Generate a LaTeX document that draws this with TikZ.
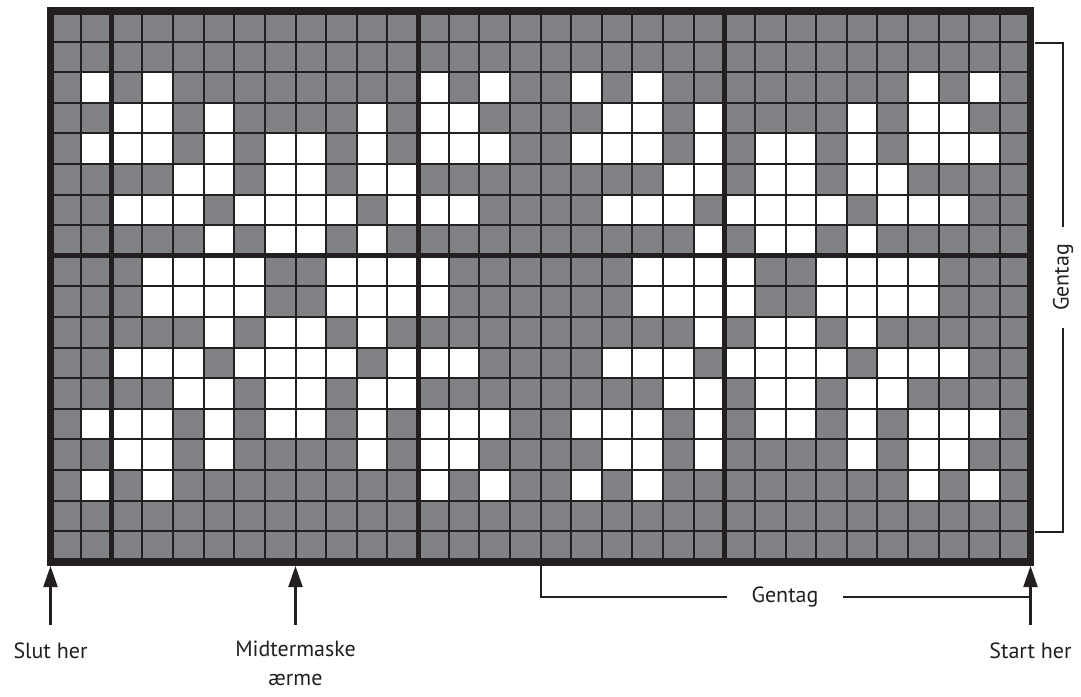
\documentclass[tikz,border=0pt]{standalone}
\usepackage{fontspec}
\setmainfont{PT Sans}
\usetikzlibrary{arrows.meta}
\definecolor{cellgray}{HTML}{808285}
\definecolor{ink}{HTML}{231F20}
\tikzset{
  thinline/.style={ink, line width=1pt},
  thickline/.style={ink, line width=2.5pt},
  frameline/.style={ink, line width=3.75pt},
  pointer/.style={ink, line width=1.1pt, -{Triangle[length=10.5pt,width=7pt]}},
  bracket/.style={ink, line width=1pt},
  lbl/.style={inner sep=0pt, font=\fontsize{11}{14.3}\selectfont, text=ink},
}
\begin{document}
\begin{tikzpicture}[x=0.5pt,y=-0.5pt]
\useasboundingbox (0,0) rectangle (1081,696);
\def\cw{30.625}
\def\ch{30.6}
\def\xo{50.5}
\def\yo{11}
% gray background of grid
\fill[cellgray] (\xo,\yo) rectangle ({\xo+32*\cw},{\yo+18*\ch});
% white cells (16-stitch repeat, used twice)
\foreach \r/\cs in {3/{2,4,13,15},4/{3,4,6,11,13,14},5/{2,3,4,6,8,9,11,13,14,15},6/{5,6,8,9,11,12},7/{3,4,5,7,8,9,10,12,13,14},8/{6,8,9,11},9/{4,5,6,7,10,11,12,13},10/{4,5,6,7,10,11,12,13},11/{6,8,9,11},12/{3,4,5,7,8,9,10,12,13,14},13/{5,6,8,9,11,12},14/{2,3,4,6,8,9,11,13,14,15},15/{3,4,6,11,13,14},16/{2,4,13,15}}{
  \foreach \c in \cs {
    \foreach \off in {0,16} {
      \fill[white] ({\xo+(\c+\off-1)*\cw},{\yo+(\r-1)*\ch}) rectangle ++(\cw,\ch);
    }
  }
}
% thin grid lines
\foreach \k in {1,...,31} \draw[thinline] ({\xo+\k*\cw},\yo) -- ({\xo+\k*\cw},{\yo+18*\ch});
\foreach \k in {1,...,17} \draw[thinline] (\xo,{\yo+\k*\ch}) -- ({\xo+32*\cw},{\yo+\k*\ch});
% thick division lines
\foreach \k in {2,12,22} \draw[thickline] ({\xo+\k*\cw},\yo) -- ({\xo+\k*\cw},{\yo+18*\ch});
\draw[thickline] (\xo,{\yo+8*\ch}) -- ({\xo+32*\cw},{\yo+8*\ch});
% frame
\draw[frameline] (\xo,\yo) rectangle ({\xo+32*\cw},{\yo+18*\ch});

% labels
\node[lbl, anchor=base] (slut) at (50.5,658) {Slut her};
\node[lbl, anchor=north, align=center] (mid) at (295.5,641) {Midtermaske\\ærme};
\node[lbl, anchor=base] (start) at (1030.5,658) {Start her};
\node[lbl, inner xsep=12pt] (gentagH) at (785,597) {Gentag};
\node[lbl, rotate=90, inner xsep=8.5pt] (gentagV) at (1063,277.5) {Gentag};

% arrows
\coordinate (slutTip) at (50.5,566);
\coordinate (slutFoot) at (50.5,625);
\coordinate (midTip) at (295.5,566);
\coordinate (midFoot) at (295.5,625);
\coordinate (startTip) at (1030.5,566);
\coordinate (startFoot) at (1030.5,625);
\draw[pointer] (slutFoot) -- (slutTip);
\draw[pointer] (midFoot) -- (midTip);
\draw[pointer] (startFoot) -- (startTip);

% horizontal repeat bracket
\coordinate (hb1) at (540.5,566);
\coordinate (hb2) at (540.5,597);
\coordinate (hb3) at (1030.5,597);
\draw[bracket] (hb1) -- (hb2) -- (gentagH.west);
\draw[bracket] (gentagH.east) -- (hb3);

% vertical repeat bracket
\coordinate (vb1) at (1035,43);
\coordinate (vb2) at (1063,43);
\coordinate (vb3) at (1063,532);
\coordinate (vb4) at (1035,532);
\draw[bracket] (vb1) -- (vb2) -- (gentagV.east);
\draw[bracket] (gentagV.west) -- (vb3) -- (vb4);
\end{tikzpicture}
\end{document}
